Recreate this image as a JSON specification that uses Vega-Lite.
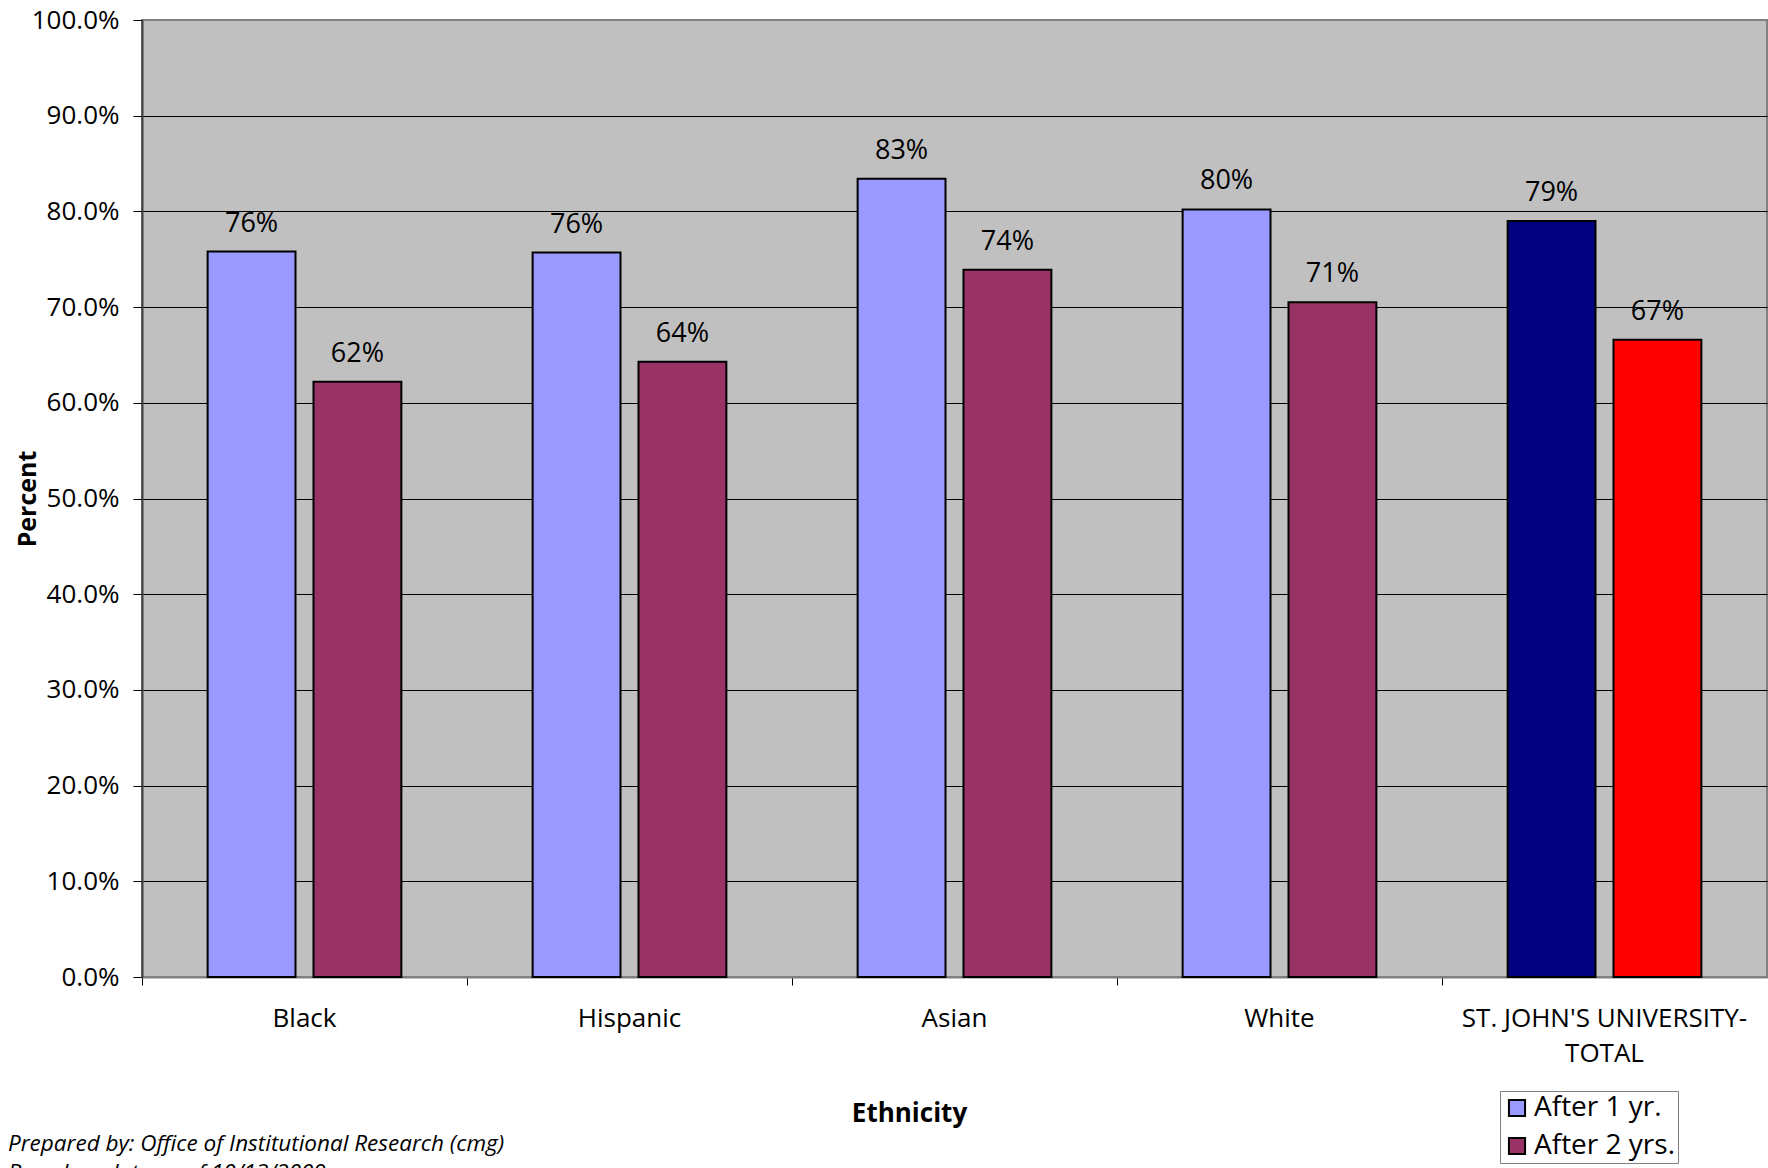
{
  "$schema": "https://vega.github.io/schema/vega-lite/v6.json",
  "autosize": {"type": "none"},
  "width": 1625,
  "height": 957,
  "padding": {"left": 142, "top": 20, "right": 1, "bottom": 191},
  "background": "#FFFFFF",
  "config": {
    "font": "Open Sans",
    "view": {"fill": "#C0C0C0", "stroke": "#808080", "strokeWidth": 2}
  },
  "title": {
    "text": ["Prepared by: Office of Institutional Research (cmg)", "Based on data as of 10/13/2009"],
    "orient": "bottom",
    "anchor": "start",
    "frame": "group",
    "dx": -134,
    "offset": -31,
    "font": "Open Sans",
    "fontSize": 22.5,
    "fontStyle": "italic",
    "fontWeight": "normal",
    "color": "#000000",
    "lineHeight": 29
  },
  "data": {
    "values": [
      {"ethnicity": "Black", "series": "After 1 yr.", "pct": 0.758},
      {"ethnicity": "Black", "series": "After 2 yrs.", "pct": 0.622},
      {"ethnicity": "Hispanic", "series": "After 1 yr.", "pct": 0.757},
      {"ethnicity": "Hispanic", "series": "After 2 yrs.", "pct": 0.643},
      {"ethnicity": "Asian", "series": "After 1 yr.", "pct": 0.834},
      {"ethnicity": "Asian", "series": "After 2 yrs.", "pct": 0.739},
      {"ethnicity": "White", "series": "After 1 yr.", "pct": 0.802},
      {"ethnicity": "White", "series": "After 2 yrs.", "pct": 0.705},
      {"ethnicity": "ST. JOHN'S UNIVERSITY-TOTAL", "series": "After 1 yr.", "pct": 0.790},
      {"ethnicity": "ST. JOHN'S UNIVERSITY-TOTAL", "series": "After 2 yrs.", "pct": 0.666}
    ]
  },
  "encoding": {
    "x": {
      "field": "ethnicity",
      "type": "nominal",
      "sort": null,
      "scale": {"paddingInner": 0, "paddingOuter": 0},
      "axis": {
        "title": "Ethnicity",
        "titleFont": "Open Sans",
        "titleFontSize": 26,
        "titleFontWeight": "bold",
        "titleColor": "#000000",
        "titlePadding": 34,
        "titleX": 767,
        "labelAngle": 0,
        "labelFont": "Open Sans",
        "labelFontSize": 26,
        "labelColor": "#000000",
        "labelPadding": 20,
        "labelLimit": 500,
        "labelLineHeight": 35,
        "labelExpr": "datum.label == \"ST. JOHN'S UNIVERSITY-TOTAL\" ? [\"ST. JOHN'S UNIVERSITY-\", \"TOTAL\"] : datum.label",
        "bandPosition": 0,
        "tickSize": 8,
        "tickColor": "#000000",
        "domainColor": "#808080",
        "domainWidth": 2,
        "grid": false
      }
    },
    "xOffset": {
      "field": "series",
      "type": "nominal",
      "scale": {"paddingInner": 0.17, "paddingOuter": 0.62}
    },
    "y": {
      "field": "pct",
      "type": "quantitative",
      "scale": {"domain": [0, 1], "nice": false},
      "axis": {
        "title": "Percent",
        "titleFont": "Open Sans",
        "titleFontSize": 25,
        "titleFontWeight": "bold",
        "titleColor": "#000000",
        "titlePadding": -9,
        "format": ".1%",
        "values": [0, 0.1, 0.2, 0.3, 0.4, 0.5, 0.6, 0.7, 0.8, 0.9, 1.0],
        "labelFont": "Open Sans",
        "labelFontSize": 26,
        "labelColor": "#000000",
        "labelPadding": 14,
        "tickSize": 9,
        "tickColor": "#000000",
        "domainColor": "#404040",
        "domainWidth": 2,
        "grid": true,
        "gridColor": {"condition": {"test": "datum.value >= 1", "value": "#808080"}, "value": "#000000"},
        "gridWidth": 1
      }
    }
  },
  "layer": [
    {
      "mark": {"type": "bar", "stroke": "#000000", "strokeWidth": 2},
      "encoding": {
        "color": {
          "field": "series",
          "type": "nominal",
          "scale": {"domain": ["After 1 yr.", "After 2 yrs."], "range": ["#9999FF", "#993366"]},
          "condition": [
            {"test": "datum.ethnicity == \"ST. JOHN'S UNIVERSITY-TOTAL\" && datum.series == \"After 1 yr.\"", "value": "#000080"},
            {"test": "datum.ethnicity == \"ST. JOHN'S UNIVERSITY-TOTAL\" && datum.series == \"After 2 yrs.\"", "value": "#FF0000"}
          ],
          "legend": {
            "title": null,
            "orient": "none",
            "legendX": 1358,
            "legendY": 1071,
            "direction": "vertical",
            "symbolType": "square",
            "symbolSize": 260,
            "symbolStrokeColor": "#000000",
            "symbolStrokeWidth": 2,
            "labelFont": "Open Sans",
            "labelFontSize": 28,
            "labelColor": "#000000",
            "labelOffset": 3,
            "rowPadding": 10,
            "padding": 3,
            "strokeColor": "#808080",
            "fillColor": "#FFFFFF"
          }
        }
      }
    },
    {
      "mark": {"type": "text", "baseline": "alphabetic", "dy": -20, "fontSize": 27, "font": "Open Sans", "color": "#000000"},
      "encoding": {
        "text": {"field": "pct", "type": "quantitative", "format": ".0%"}
      }
    }
  ]
}
